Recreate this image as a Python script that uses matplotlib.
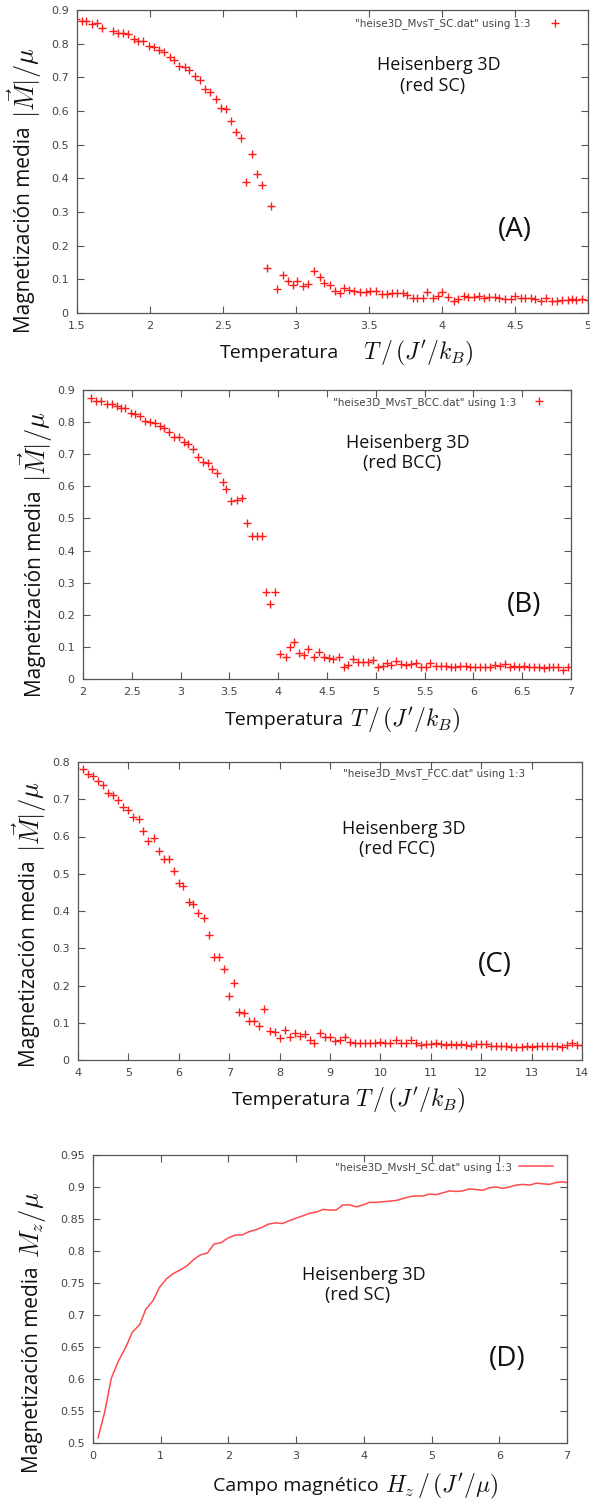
import matplotlib
matplotlib.use("Agg")
import matplotlib.pyplot as plt
from matplotlib.ticker import FuncFormatter
import numpy as np

# ---------------- data ----------------
T_sc = [1.49, 1.534, 1.564, 1.60, 1.637, 1.671, 1.744, 1.78, 1.815, 1.85, 1.89, 1.918, 1.952,
        1.99, 2.025, 2.06, 2.098, 2.135, 2.167, 2.20, 2.237, 2.27, 2.306, 2.345, 2.38, 2.41,
        2.45, 2.486, 2.52, 2.555, 2.59, 2.625, 2.66, 2.696, 2.733, 2.767, 2.80, 2.83, 2.87,
        2.91, 2.945, 2.977, 3.01, 3.05, 3.08, 3.125, 3.167, 3.19, 3.23, 3.27, 3.30, 3.33,
        3.365, 3.40, 3.44, 3.48, 3.51, 3.55, 3.59, 3.62, 3.66, 3.69, 3.73, 3.76, 3.80, 3.83,
        3.87, 3.90, 3.94, 3.97, 4.00, 4.04, 4.08, 4.11, 4.15, 4.18, 4.22, 4.25, 4.29, 4.32,
        4.36, 4.39, 4.43, 4.47, 4.50, 4.54, 4.57, 4.61, 4.64, 4.68, 4.71, 4.75, 4.79, 4.82,
        4.86, 4.89, 4.92, 4.96, 5.00]
M_sc = [0.873, 0.868, 0.866, 0.858, 0.860, 0.848, 0.839, 0.831, 0.831, 0.828, 0.814, 0.809, 0.807,
        0.794, 0.791, 0.781, 0.776, 0.760, 0.752, 0.735, 0.730, 0.722, 0.705, 0.692, 0.665, 0.655,
        0.637, 0.608, 0.605, 0.571, 0.538, 0.521, 0.388, 0.472, 0.412, 0.379, 0.134, 0.319, 0.072,
        0.113, 0.094, 0.084, 0.094, 0.081, 0.086, 0.124, 0.107, 0.089, 0.084, 0.064, 0.059, 0.073,
        0.069, 0.066, 0.062, 0.063, 0.066, 0.066, 0.056, 0.055, 0.059, 0.059, 0.059, 0.054, 0.046, 0.046,
        0.046, 0.061, 0.044, 0.051, 0.061, 0.047, 0.037, 0.042, 0.051, 0.049, 0.049, 0.051, 0.046, 0.049,
        0.049, 0.044, 0.042, 0.043, 0.051, 0.044, 0.046, 0.044, 0.042, 0.037, 0.046, 0.035, 0.037, 0.040,
        0.040, 0.042, 0.040, 0.042, 0.038]

T_bcc = [2.085, 2.136, 2.184, 2.245, 2.296, 2.348, 2.392, 2.433, 2.49, 2.535, 2.586, 2.637, 2.69,
         2.733, 2.784, 2.835, 2.886, 2.934, 2.985, 3.03, 3.08, 3.13, 3.18, 3.23, 3.28, 3.326, 3.37,
         3.43, 3.47, 3.52, 3.575, 3.626, 3.677, 3.728, 3.78, 3.83, 3.87, 3.92, 3.967, 4.02, 4.076,
         4.12, 4.16, 4.215, 4.266, 4.307, 4.365, 4.416, 4.466, 4.517, 4.56, 4.62, 4.67, 4.72, 4.765,
         4.816, 4.867, 4.918, 4.97, 5.02, 5.07, 5.11, 5.16, 5.21, 5.26, 5.31, 5.36, 5.41, 5.46, 5.51,
         5.56, 5.615, 5.667, 5.72, 5.77, 5.816, 5.867, 5.92, 5.97, 6.02, 6.07, 6.12, 6.167, 6.218,
         6.27, 6.32, 6.37, 6.42, 6.47, 6.52, 6.57, 6.62, 6.67, 6.72, 6.77, 6.82, 6.87, 6.92, 6.97]
M_bcc = [0.874, 0.866, 0.866, 0.856, 0.855, 0.850, 0.845, 0.843, 0.827, 0.824, 0.819, 0.804, 0.801,
         0.796, 0.788, 0.781, 0.768, 0.754, 0.754, 0.739, 0.732, 0.716, 0.692, 0.677, 0.672, 0.654, 0.640,
         0.614, 0.591, 0.555, 0.557, 0.565, 0.487, 0.446, 0.446, 0.446, 0.270, 0.234, 0.270, 0.077, 0.067,
         0.101, 0.114, 0.080, 0.075, 0.092, 0.070, 0.085, 0.067, 0.064, 0.062, 0.070, 0.038, 0.044, 0.061,
         0.054, 0.054, 0.054, 0.059, 0.038, 0.042, 0.051, 0.044, 0.056, 0.046, 0.044, 0.046, 0.049, 0.036, 0.038,
         0.051, 0.042, 0.042, 0.042, 0.036, 0.036, 0.042, 0.042, 0.036, 0.036, 0.036, 0.036, 0.038, 0.044,
         0.042, 0.046, 0.036, 0.042, 0.038, 0.042, 0.038, 0.036, 0.036, 0.033, 0.036, 0.038, 0.036, 0.028, 0.038]

T_fcc = [4.09, 4.20, 4.30, 4.40, 4.50, 4.60, 4.70, 4.80, 4.90, 5.00, 5.10, 5.21, 5.29, 5.39, 5.51,
         5.61, 5.71, 5.81, 5.91, 6.01, 6.09, 6.20, 6.29, 6.39, 6.50, 6.60, 6.70, 6.80, 6.90, 7.00,
         7.10, 7.20, 7.30, 7.40, 7.50, 7.60, 7.70, 7.80, 7.90, 8.00, 8.10, 8.20, 8.30, 8.40, 8.50,
         8.60, 8.68, 8.80, 8.90, 9.00, 9.10, 9.19, 9.29, 9.40, 9.50, 9.60, 9.70, 9.80, 9.90, 10.0,
         10.1, 10.2, 10.3, 10.4, 10.5, 10.6, 10.7, 10.8, 10.9, 11.0, 11.1, 11.2, 11.3, 11.4, 11.5,
         11.6, 11.7, 11.8, 11.9, 12.0, 12.1, 12.2, 12.3, 12.4, 12.5, 12.6, 12.7, 12.8, 12.9, 13.0,
         13.1, 13.2, 13.3, 13.4, 13.5, 13.6, 13.7, 13.8, 13.9, 14.0]
M_fcc = [0.782, 0.767, 0.762, 0.749, 0.739, 0.717, 0.711, 0.699, 0.678, 0.672, 0.653, 0.646, 0.615,
         0.587, 0.595, 0.561, 0.539, 0.539, 0.508, 0.474, 0.468, 0.425, 0.420, 0.395, 0.380, 0.335,
         0.277, 0.277, 0.244, 0.172, 0.206, 0.130, 0.127, 0.105, 0.105, 0.092, 0.137, 0.078, 0.076,
         0.058, 0.080, 0.063, 0.072, 0.064, 0.069, 0.054, 0.046, 0.072, 0.061, 0.061, 0.052, 0.054,
         0.063, 0.049, 0.046, 0.046, 0.046, 0.046, 0.046, 0.049, 0.046, 0.046, 0.054, 0.046, 0.046,
         0.054, 0.046, 0.040, 0.042, 0.042, 0.046, 0.042, 0.040, 0.042, 0.040, 0.042, 0.040, 0.038,
         0.042, 0.042, 0.042, 0.038, 0.038, 0.038, 0.038, 0.036, 0.036, 0.036, 0.038, 0.036, 0.038,
         0.038, 0.038, 0.038, 0.038, 0.036, 0.040, 0.045, 0.040, 0.040]

H_sc = [0.074, 0.17, 0.27, 0.37, 0.49, 0.58, 0.69, 0.78, 0.89, 0.98, 1.09, 1.19, 1.28, 1.39, 1.50,
        1.59, 1.69, 1.79, 1.89, 1.99, 2.10, 2.20, 2.30, 2.40, 2.50, 2.59, 2.70, 2.80, 2.89, 2.99,
        3.10, 3.20, 3.30, 3.40, 3.49, 3.59, 3.69, 3.79, 3.89, 3.99, 4.08, 4.18, 4.28, 4.38, 4.48,
        4.58, 4.68, 4.77, 4.87, 4.97, 5.07, 5.17, 5.27, 5.36, 5.46, 5.56, 5.66, 5.76, 5.86, 5.95,
        6.05, 6.15, 6.25, 6.35, 6.45, 6.55, 6.64, 6.74, 6.84, 6.94, 7.0]
Mz_sc = [0.508, 0.547, 0.601, 0.627, 0.651, 0.673, 0.685, 0.709, 0.723, 0.743, 0.757, 0.765, 0.770,
         0.777, 0.788, 0.794, 0.797, 0.811, 0.813, 0.820, 0.825, 0.825, 0.830, 0.833, 0.837, 0.842,
         0.844, 0.843, 0.847, 0.851, 0.855, 0.859, 0.861, 0.865, 0.864, 0.864, 0.872, 0.872, 0.869,
         0.872, 0.876, 0.876, 0.877, 0.878, 0.879, 0.882, 0.885, 0.886, 0.886, 0.889, 0.888, 0.891,
         0.894, 0.893, 0.894, 0.897, 0.896, 0.895, 0.899, 0.900, 0.898, 0.900, 0.903, 0.904, 0.903,
         0.906, 0.905, 0.904, 0.907, 0.908, 0.907]

legend_A = '"heise3D_MvsT_SC.dat" using 1:3'
legend_B = '"heise3D_MvsT_BCC.dat" using 1:3'
legend_C = '"heise3D_MvsT_FCC.dat" using 1:3'
legend_D = '"heise3D_MvsH_SC.dat" using 1:3'

# ---------------- style ----------------
W, H = 590, 1499
plt.rcParams['mathtext.fontset'] = 'cm'
TXT = 'Open Sans'
RED = '#ff1a1a'
FRAME = '#555555'
TICKC = '#444444'

fig = plt.figure(figsize=(W / 100, H / 100), dpi=100)
fig.patch.set_facecolor('white')
renderer = fig.canvas.get_renderer()


def make_ax(l, t, r, b):
    return fig.add_axes([l / W, 1 - b / H, (r - l) / W, (b - t) / H])


fmt = FuncFormatter(lambda v, p: ('%g' % round(v, 3)))


def style(ax, xlim, ylim, xt, yt):
    ax.set_xlim(*xlim)
    ax.set_ylim(*ylim)
    ax.set_xticks(xt)
    ax.set_yticks(yt)
    ax.xaxis.set_major_formatter(fmt)
    ax.yaxis.set_major_formatter(fmt)
    ax.tick_params(direction='in', top=True, right=True, length=5, width=0.8,
                   color=FRAME, labelsize=8, labelcolor=TICKC, pad=6)
    for s in ax.spines.values():
        s.set_color(FRAME)
        s.set_linewidth(0.9)
    for lab in ax.get_xticklabels() + ax.get_yticklabels():
        lab.set_fontfamily('DejaVu Sans')


def ylabel(x, ybottom, math):
    t = fig.text(x / W, 1 - ybottom / H, 'Magnetización media', rotation=90,
                 ha='center', va='bottom', fontsize=15, family=TXT, color='#111111')
    ext = t.get_window_extent(renderer)
    top = ext.y1 + 8
    fig.text(x / W, top / H, math, rotation=90, ha='center', va='bottom',
             fontsize=19, color='#111111')


def xlabel(x1, x2, y, word, math):
    fig.text(x1 / W, 1 - y / H, word, ha='left', va='center', fontsize=14,
             family=TXT, color='#111111')
    fig.text(x2 / W, 1 - y / H, math, ha='left', va='center', fontsize=17,
             color='#111111')


def annot(ax, pos1, pos2, pos3, l2, l3):
    ax.text(pos1[0], pos1[1], 'Heisenberg 3D', transform=ax.transAxes, ha='left',
            va='center', fontsize=13, family=TXT, color='#111111')
    ax.text(pos2[0], pos2[1], l2, transform=ax.transAxes, ha='left',
            va='center', fontsize=13, family=TXT, color='#111111')
    ax.text(pos3[0], pos3[1], l3, transform=ax.transAxes, ha='left',
            va='center', fontsize=20, family=TXT, color='#111111')


mk = dict(ls='none', marker='+', ms=6, mew=1.0, color=RED)

# ---------------- Panel A ----------------
axA = make_ax(77, 10, 588, 313)
axA.plot(T_sc, M_sc, label=legend_A, **mk)
style(axA, (1.5, 5), (0, 0.9), np.arange(1.5, 5.01, 0.5), np.arange(0, 0.91, 0.1))
axA.legend(loc='upper right', bbox_to_anchor=(0.956, 0.972), markerfirst=False,
           frameon=False, fontsize=7.5, labelcolor='#444444', handlelength=2,
           handletextpad=1.4, borderpad=0, borderaxespad=0)
annot(axA, (0.587, 0.82), (0.632, 0.75), (0.824, 0.274), '(red SC)', '(A)')
ylabel(25, 333, r'$|\vec{M}|/\mu$')
xlabel(220, 363, 353, 'Temperatura', r"$T\,/\,(J'/k_B)$")

# ---------------- Panel B ----------------
axB = make_ax(83, 390, 571, 679)
axB.plot(T_bcc, M_bcc, label=legend_B, **mk)
style(axB, (2, 7), (0, 0.9), np.arange(2, 7.01, 0.5), np.arange(0, 0.91, 0.1))
axB.legend(loc='upper right', bbox_to_anchor=(0.956, 0.976), markerfirst=False,
           frameon=False, fontsize=7.5, labelcolor='#444444', handlelength=2,
           handletextpad=1.2, borderpad=0, borderaxespad=0)
annot(axB, (0.539, 0.817), (0.574, 0.747), (0.869, 0.256), '(red BCC)', '(B)')
ylabel(36, 697, r'$|\vec{M}|/\mu$')
xlabel(225, 350, 720, 'Temperatura', r"$T\,/\,(J'/k_B)$")

# ---------------- Panel C ----------------
axC = make_ax(78, 762, 582, 1060)
axC.plot(T_fcc, M_fcc, **mk)
style(axC, (4, 14), (0, 0.8), np.arange(4, 14.01, 1), np.arange(0, 0.81, 0.1))
axC.text(0.887, 0.96, legend_C, transform=axC.transAxes, ha='right', va='center',
         fontsize=7.5, color='#444444')
annot(axC, (0.524, 0.775), (0.558, 0.708), (0.794, 0.319), '(red FCC)', '(C)')
ylabel(30, 1067, r'$|\vec{M}|/\mu$')
xlabel(232, 355, 1100, 'Temperatura', r"$T\,/\,(J'/k_B)$")

# ---------------- Panel D ----------------
axD = make_ax(93, 1155, 567, 1443)
axD.plot(H_sc, Mz_sc, color='#ff4a4a', lw=1.1, label=legend_D)
style(axD, (0, 7), (0.5, 0.95), np.arange(0, 7.01, 1), np.arange(0.5, 0.951, 0.05))
axD.legend(loc='upper right', bbox_to_anchor=(0.97, 0.977), markerfirst=False,
           frameon=False, fontsize=7.5, labelcolor='#444444', handlelength=3.2,
           handletextpad=0.7, borderpad=0, borderaxespad=0)
annot(axD, (0.441, 0.583), (0.489, 0.514), (0.835, 0.292), '(red SC)', '(D)')
ylabel(33, 1473, r'$M_z/\mu$')
xlabel(213, 385, 1486, 'Campo magnético', r"$H_z\,/\,(J'/\mu)$")

fig.savefig('out.png', dpi=100, facecolor='white')
